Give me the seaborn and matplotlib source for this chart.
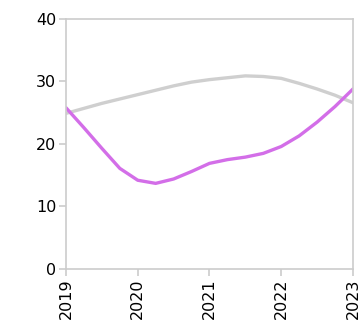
import matplotlib
matplotlib.use("Agg")
import matplotlib.pyplot as plt
import pandas as pd
import seaborn as sns

# %% DATA (quarterly)
years = [2019.0, 2019.25, 2019.5, 2019.75, 2020.0, 2020.25, 2020.5, 2020.75,
         2021.0, 2021.25, 2021.5, 2021.75, 2022.0, 2022.25, 2022.5, 2022.75, 2023.0]
violet_vals = [25.8, 22.6, 19.3, 16.1, 14.2, 13.7, 14.4, 15.6,
               16.9, 17.5, 17.9, 18.5, 19.6, 21.3, 23.5, 26.0, 28.8]
gray_vals = [24.9, 25.7, 26.5, 27.2, 27.9, 28.6, 29.3, 29.9,
             30.3, 30.6, 30.9, 30.8, 30.5, 29.7, 28.8, 27.8, 26.6]
x_ticks = [2019, 2020, 2021, 2022, 2023]
y_ticks = [0, 10, 20, 30, 40]

df = pd.DataFrame({"year": years, "violet": violet_vals, "gray": gray_vals})

# %% VISUALISE
sns.set_style("white")
plt.rcParams["font.family"] = ["DejaVu Sans"]

fig = plt.figure(figsize=(3.61, 3.27), dpi=100)
ax = fig.add_axes([0.1828, 0.1774, 0.795, 0.7645])

sns.lineplot(data=df, x="year", y="gray", color="#cfcfcf", linewidth=2.4, ax=ax)
sns.lineplot(data=df, x="year", y="violet", color="#d36ee8", linewidth=2.4, ax=ax)

ax.set_xlim(2019, 2023)
ax.set_ylim(0, 40)
ax.set_xticks(x_ticks)
ax.set_xticklabels([str(t) for t in x_ticks], rotation=90)
ax.set_yticks(y_ticks)
ax.set_xlabel("")
ax.set_ylabel("")

for sp in ax.spines.values():
    sp.set_color("#cccccc")
    sp.set_linewidth(1.2)
ax.tick_params(axis="both", length=5, width=1.2, color="#cccccc",
               labelsize=11.5, labelcolor="black", pad=2, bottom=True, left=True)

fig.savefig("out.png", dpi=100)
